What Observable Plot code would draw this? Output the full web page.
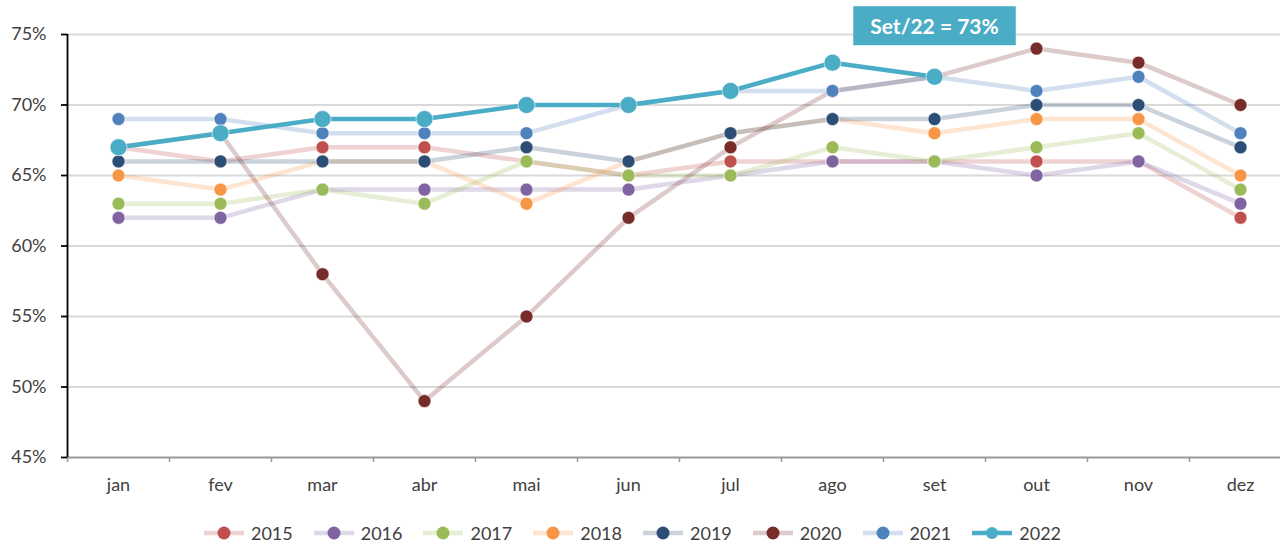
<!DOCTYPE html>
<html><head><meta charset="utf-8">
<script src="https://cdn.jsdelivr.net/npm/d3@7"></script>
<script src="https://cdn.jsdelivr.net/npm/@observablehq/plot@0.6"></script>
<style>
body{margin:0;background:#fff;font-family:Lato,"Open Sans",sans-serif;width:1280px;height:542px;overflow:hidden}
#chart svg{display:block}
#legend{display:flex;justify-content:center;align-items:center;height:18px;margin-top:6px;padding-right:16px;font-size:18px;line-height:18px;color:#404040}
.item{display:flex;align-items:center;margin:0 10px;height:18px}
.item svg{margin-right:6px}
.tl text{font-size:18px}
.note text{font-size:21px}
</style></head><body>
<div id="chart"></div>
<div id="legend"></div>
<script>
const months = ["jan","fev","mar","abr","mai","jun","jul","ago","set","out","nov","dez"];
const years = ["2015","2016","2017","2018","2019","2020","2021","2022"];
const colors = ["#C0504D","#8064A2","#9BBB59","#F79646","#2C4D75","#772C2A","#4F81BD","#4BACC6"];
const v2015 = [67,66,67,67,66,65,66,66,66,66,66,62];
const v2016 = [62,62,64,64,64,64,65,66,66,65,66,63];
const v2017 = [63,63,64,63,66,65,65,67,66,67,68,64];
const v2018 = [65,64,66,66,63,66,68,69,68,69,69,65];
const v2019 = [66,66,66,66,67,66,68,69,69,70,70,67];
const v2020 = [67,68,58,49,55,62,67,71,72,74,73,70];
const v2021 = [69,69,68,68,68,70,71,71,72,71,72,68];
const v2022 = [67,68,69,69,70,70,71,73,72];
const yTicks = [0.45,0.50,0.55,0.60,0.65,0.70,0.75];
const note = "Set/22 = 73%";

const series = [v2015,v2016,v2017,v2018,v2019,v2020,v2021,v2022];
const data = [];
series.forEach((vals, k) => vals.forEach((v, i) => data.push({year: years[k], i, month: months[i], value: v/100})));
const others = data.filter(d => d.year !== "2022");
const cur = data.filter(d => d.year === "2022");
const peak = cur.reduce((a, b) => b.value > a.value ? b : a);

const pct = d => Math.round(d*100) + "%";

const chart = Plot.plot({
  width: 1280, height: 518,
  marginTop: 34, marginBottom: 61, marginLeft: 67, marginRight: 0,
  style: {fontFamily: "Lato, 'Open Sans', sans-serif", fontSize: "18px", background: "#fff"},
  x: {domain: [-0.5, 11.5], range: [67, 1291], label: null},
  y: {domain: [0.45, 0.75], label: null},
  color: {domain: years, range: colors},
  marks: [
    Plot.ruleY(yTicks.slice(1), {stroke: "#D9D9D9", strokeWidth: 1.8}),
    Plot.ruleY([0.45], {stroke: "#9A9A9A", strokeWidth: 1.8}),
    Plot.axisX({ticks: d3.range(-0.5, 12, 1), tickSize: 5, tickFormat: () => "", stroke: "#9A9A9A", strokeWidth: 1.5, label: null}),
    Plot.axisX({ticks: d3.range(12), tickSize: 0, tickPadding: 21, tickFormat: i => months[i], fill: "#404040", className: "tl", label: null}),
    Plot.axisY({ticks: yTicks, tickSize: 6, tickFormat: () => "", stroke: "black", strokeWidth: 1.8, label: null}),
    Plot.axisY({ticks: yTicks, tickSize: 0, tickPadding: 21, tickFormat: pct, fill: "#404040", className: "tl", label: null}),
    Plot.ruleX([-0.5], {stroke: "black", strokeWidth: 1.8}),
    Plot.lineY(others, {x: "i", y: "value", z: "year", stroke: "year", strokeOpacity: 0.25, strokeWidth: 4.5}),
    Plot.dot(others, {x: "i", y: "value", fill: "year", r: 6.5, stroke: "white", strokeWidth: 0.6}),
    Plot.lineY(cur, {x: "i", y: "value", stroke: "year", strokeWidth: 4.5}),
    Plot.dot(cur, {x: "i", y: "value", fill: "year", r: 8.5, stroke: "white", strokeWidth: 0.6}),
    Plot.text([{i: peak.i + 1, label: note}], {x: "i", y: () => 0.75, dy: -7, text: "label", fill: "white", fontWeight: "bold", className: "note"})
  ]
});
document.getElementById("chart").appendChild(chart);

// background box behind the note
const t = chart.querySelector("g.note text");
if (t) {
  const bb = t.getBBox();
  const rect = document.createElementNS("http://www.w3.org/2000/svg", "rect");
  const padX = 17, padY = 7;
  rect.setAttribute("x", bb.x - padX);
  rect.setAttribute("y", bb.y - padY);
  rect.setAttribute("width", bb.width + 2*padX);
  rect.setAttribute("height", bb.height + 2*padY);
  rect.setAttribute("fill", colors[7]);
  const tr = t.getAttribute("transform");
  if (tr) rect.setAttribute("transform", tr);
  t.parentNode.insertBefore(rect, t);
}

const legend = document.getElementById("legend");
years.forEach((y, k) => {
  const item = document.createElement("div");
  item.className = "item";
  const main = y === "2022";
  item.innerHTML = `<svg width="42" height="16"><line x1="1" x2="41" y1="8" y2="8" stroke="${colors[k]}" stroke-opacity="${main ? 1 : 0.25}" stroke-width="4.5"/><circle cx="21" cy="8" r="${main ? 6 : 6.5}" fill="${colors[k]}"/></svg><span>${y}</span>`;
  legend.appendChild(item);
});
</script>
</body></html>
